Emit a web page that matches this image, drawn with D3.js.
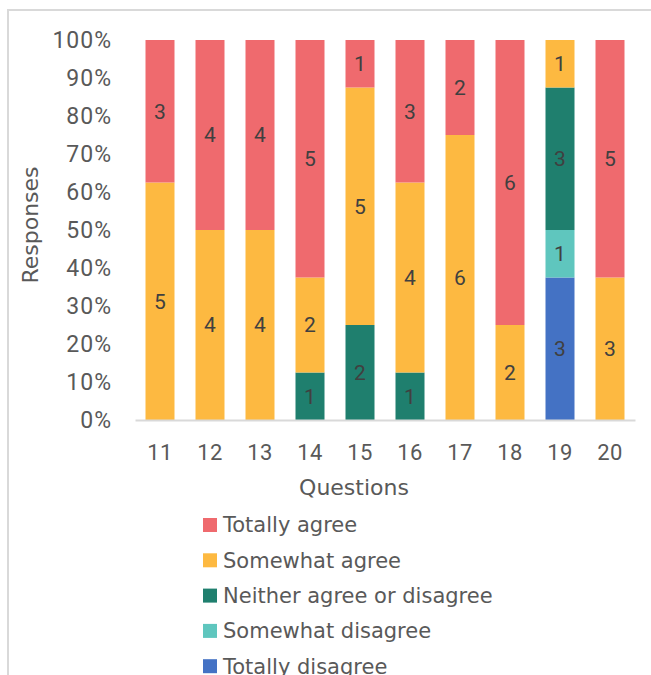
<!DOCTYPE html>
<html>
<head>
<meta charset="utf-8">
<script src="https://cdn.jsdelivr.net/npm/d3@7"></script>
<style>
  body { margin: 0; background: #fff; }
  svg { display: block; }
</style>
</head>
<body>
<div id="chart"></div>
<script>
// Chart data
const questions = ["11", "12", "13", "14", "15", "16", "17", "18", "19", "20"];
const seriesNames = ["Totally disagree", "Somewhat disagree", "Neither agree or disagree", "Somewhat agree", "Totally agree"];
const totallyDisagree = [0, 0, 0, 0, 0, 0, 0, 0, 3, 0];
const somewhatDisagree = [0, 0, 0, 0, 0, 0, 0, 0, 1, 0];
const neither = [0, 0, 0, 1, 2, 1, 0, 0, 3, 0];
const somewhatAgree = [5, 4, 4, 2, 5, 4, 6, 2, 1, 3];
const totallyAgree = [3, 4, 4, 5, 1, 3, 2, 6, 0, 5];
const yTicks = [0, 0.1, 0.2, 0.3, 0.4, 0.5, 0.6, 0.7, 0.8, 0.9, 1];

const colors = ["#4472C4", "#5FC6BE", "#1F7F6E", "#FDB941", "#EF6A6E"];
const seriesValues = [totallyDisagree, somewhatDisagree, neither, somewhatAgree, totallyAgree];

const width = 651, height = 675;
const svg = d3.select("#chart").append("svg")
    .attr("width", width)
    .attr("height", height);

// frame of the chart area (partly cropped in the original)
svg.append("path")
    .attr("d", "M8,675 V10 H651")
    .attr("fill", "none")
    .attr("stroke", "#d9d9d9")
    .attr("stroke-width", 2);

const plot = { left: 135, right: 635, top: 40, bottom: 420 };

const x = d3.scaleBand()
    .domain(questions)
    .range([plot.left, plot.right])
    .paddingInner(0.42)
    .paddingOuter(0.21);

const y = d3.scaleLinear()
    .domain([0, 1])
    .range([plot.bottom, plot.top]);

// build rows for stacking
const rows = questions.map((q, i) => {
    const row = { q: q };
    seriesNames.forEach((s, k) => row[s] = seriesValues[k][i]);
    return row;
});

const stack = d3.stack()
    .keys(seriesNames)
    .offset(d3.stackOffsetExpand);
const stacked = stack(rows);

const font = "Roboto, 'Open Sans', sans-serif";
const titleFont = "Tahoma, 'DejaVu Sans', sans-serif";

// y axis labels
const yAxis = d3.axisLeft(y)
    .tickValues(yTicks)
    .tickFormat(d3.format(".0%"))
    .tickSize(0)
    .tickPadding(0);

svg.append("g")
    .attr("transform", `translate(${plot.left - 23},0)`)
    .call(yAxis)
    .call(g => g.select(".domain").remove())
    .selectAll("text")
    .attr("font-family", font)
    .attr("font-size", 23)
    .attr("letter-spacing", 1)
    .attr("fill", "#595959");

// bars
const layers = svg.append("g").selectAll("g")
    .data(stacked)
    .enter()
    .append("g")
    .attr("fill", (d, i) => colors[i]);

layers.selectAll("rect")
    .data(d => d.map(p => ({ p: p, key: d.key })))
    .enter()
    .append("rect")
    .attr("x", d => x(d.p.data.q))
    .attr("y", d => y(d.p[1]))
    .attr("width", x.bandwidth())
    .attr("height", d => y(d.p[0]) - y(d.p[1]));

// data labels
layers.selectAll("text")
    .data(d => d.map(p => ({ p: p, key: d.key })).filter(d => d.p.data[d.key] > 0))
    .enter()
    .append("text")
    .attr("x", d => x(d.p.data.q) + x.bandwidth() / 2)
    .attr("y", d => (y(d.p[0]) + y(d.p[1])) / 2)
    .attr("dy", "0.35em")
    .attr("text-anchor", "middle")
    .attr("font-family", font)
    .attr("font-size", 21)
    .attr("fill", "#404040")
    .text(d => d.p.data[d.key]);

// x axis
const xAxis = d3.axisBottom(x).tickSize(0).tickPadding(24);
svg.append("g")
    .attr("transform", `translate(0,${plot.bottom})`)
    .call(xAxis)
    .call(g => g.select(".domain")
        .attr("stroke", "#d9d9d9")
        .attr("stroke-width", 2))
    .selectAll("text")
    .attr("font-family", font)
    .attr("font-size", 22)
    .attr("letter-spacing", 0.5)
    .attr("fill", "#595959");

// axis titles
svg.append("text")
    .attr("x", 354)
    .attr("y", 495)
    .attr("text-anchor", "middle")
    .attr("font-family", titleFont)
    .attr("font-size", 22)
    .attr("fill", "#595959")
    .text("Questions");

svg.append("text")
    .attr("transform", "rotate(-90)")
    .attr("x", -225)
    .attr("y", 38)
    .attr("text-anchor", "middle")
    .attr("font-family", titleFont)
    .attr("font-size", 22)
    .attr("fill", "#595959")
    .text("Responses");

// legend (top series first)
const legendOrder = seriesNames.slice().reverse();
const legendColors = colors.slice().reverse();
const legend = svg.append("g").selectAll("g")
    .data(legendOrder)
    .enter()
    .append("g")
    .attr("transform", (d, i) => `translate(203,${525 + i * 35.3})`);

legend.append("rect")
    .attr("x", 0)
    .attr("y", -7)
    .attr("width", 14)
    .attr("height", 14)
    .attr("fill", (d, i) => legendColors[i]);

legend.append("text")
    .attr("x", 20)
    .attr("dy", "0.35em")
    .attr("font-family", titleFont)
    .attr("font-size", 21)
    .attr("fill", "#595959")
    .text(d => d);
</script>
</body>
</html>
